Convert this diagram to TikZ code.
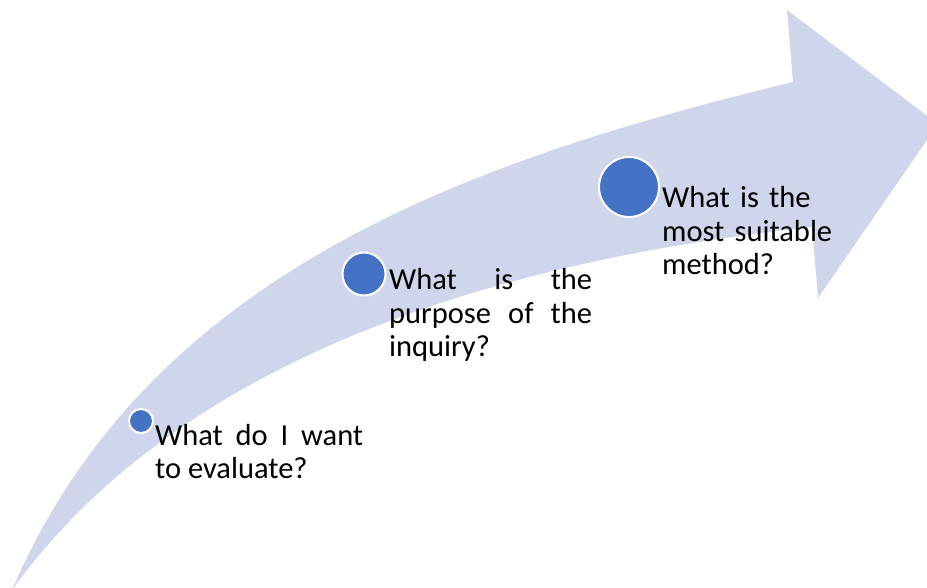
\documentclass[tikz,border=0pt]{standalone}
\usepackage{fontspec}
\setmainfont{Carlito}
\definecolor{bandfill}{HTML}{CFD5EA}
\definecolor{dotblue}{HTML}{4472C4}
\tikzset{
  milestone/.style={circle, fill=dotblue, draw=white, line width=2pt, inner sep=0pt},
  question/.style={anchor=base west, inner sep=0pt, font=\fontsize{30.5}{33.5}\selectfont},
}
\hyphenpenalty=10000

\begin{document}
\begin{tikzpicture}[x=1pt, y=-1pt, line join=round]
  \clip (0,0) rectangle (927,588);
  % curved band with its arrow head
  \fill[bandfill] (12,590) .. controls (150,268) and (480,158) .. (793,82)
    -- (787,10) -- (938,124) -- (818,298) -- (812,227)
    .. controls (514,259) and (185,350) .. (12,590) -- cycle;
  % milestones
  \node[milestone, minimum size=24pt] (dot1) at (141,421) {};
  \node[milestone, minimum size=43pt] (dot2) at (364,274) {};
  \node[milestone, minimum size=60pt] (dot3) at (629,187) {};
  % questions
  \node[question, text width=208pt, align=justify] (q1) at (155,445)
    {What do I want\linebreak to evaluate?};
  \node[question, text width=203pt, align=justify] (q2) at (389,290)
    {What is the\linebreak purpose of the\linebreak inquiry?};
  \node[question, text width=185pt, align=left] (q3) at (662,208)
    {What is the most suitable method?};
\end{tikzpicture}
\end{document}
